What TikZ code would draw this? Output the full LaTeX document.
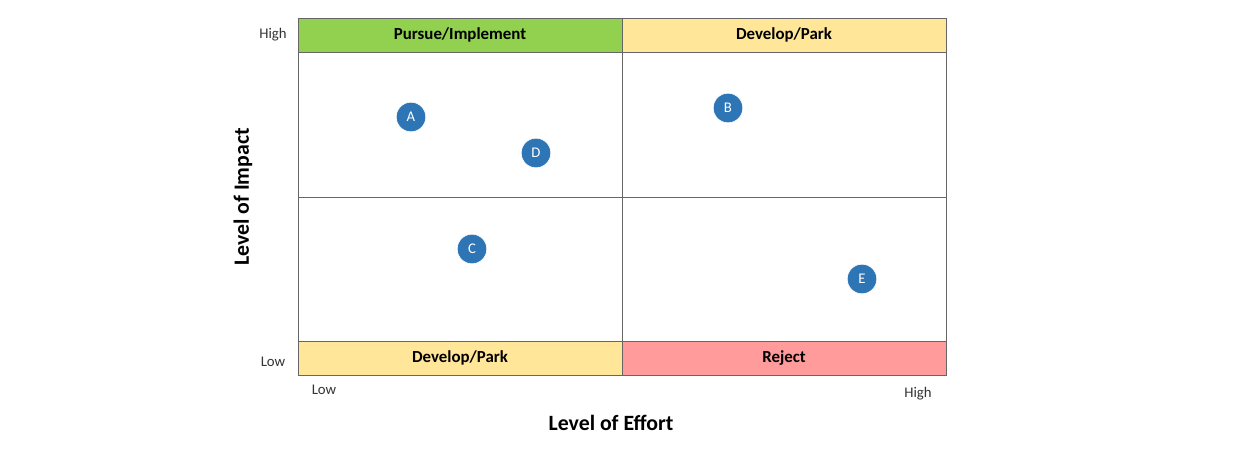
\documentclass[tikz,border=0pt]{standalone}
\usepackage{fontspec}
\setmainfont{Carlito}
\begin{document}
\begin{tikzpicture}[x=0.025cm, y=-0.025cm,
band/.style={draw=black!60, font=\bfseries\fontsize{12}{14}\selectfont},
item/.style={circle, fill=blue!55!black!70!cyan, draw=white, minimum size=21pt, inner sep=0pt, text=white, font=\fontsize{10.5}{12}\selectfont},
tick/.style={font=\fontsize{10.5}{12}\selectfont, text=black!80}
]
\definecolor{hgreen}{HTML}{92D050}
\definecolor{hyellow}{HTML}{FFE699}
\definecolor{hred}{HTML}{FF9B9B}
\definecolor{dotblue}{HTML}{2E75B6}
\useasboundingbox (0,0) rectangle (1240,464);
%Bands
\draw[band, fill=hgreen]  (298,18)  rectangle (622,52)  node[midway] (pi) {Pursue/Implement};
\draw[band, fill=hyellow] (622,18)  rectangle (946,52)  node[midway] (dp1) {Develop/Park};
\draw[band, fill=hyellow] (298,341) rectangle (622,375) node[midway] (dp2) {Develop/Park};
\draw[band, fill=hred]    (622,341) rectangle (946,375) node[midway] (rj) {Reject};
%Quadrants
\draw[black!60] (298,52) rectangle (946,341);
\draw[black!60] (622,52) -- (622,341);
\draw[black!60] (298,197) -- (946,197);
%Items
\node[item, fill=dotblue] (a) at (411,117) {A};
\node[item, fill=dotblue] (d) at (536,153) {D};
\node[item, fill=dotblue] (b) at (728,108) {B};
\node[item, fill=dotblue] (c) at (472,249) {C};
\node[item, fill=dotblue] (e) at (862,279) {E};
%Axes
\node[tick] (yh) at (273,35)  {High};
\node[tick] (yl) at (273,362) {Low};
\node[tick] (xl) at (324,390) {Low};
\node[tick] (xh) at (918,394) {High};
\node[font=\bfseries\fontsize{15.5}{18}\selectfont] (xt) at (611,423) {Level of Effort};
\node[font=\bfseries\fontsize{15.5}{18}\selectfont, rotate=90] (yt) at (243,197) {Level of Impact};
\end{tikzpicture}
\end{document}
